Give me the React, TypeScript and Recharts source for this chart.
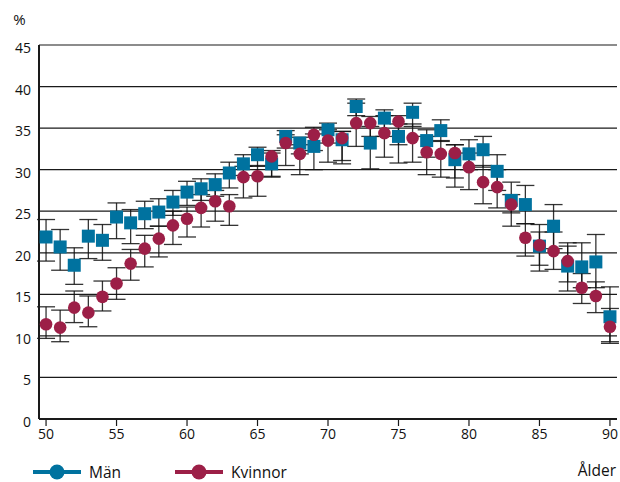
import React from 'react';
import { ScatterChart, Scatter, XAxis, YAxis, CartesianGrid, ErrorBar, Legend, Label } from 'recharts';

const ages = [50, 51, 52, 53, 54, 55, 56, 57, 58, 59, 60, 61, 62, 63, 64, 65, 66, 67, 68, 69, 70, 71, 72, 73, 74, 75, 76, 77, 78, 79, 80, 81, 82, 83, 84, 85, 86, 87, 88, 89, 90];

const menValues = [21.9, 20.7, 18.5, 22.0, 21.5, 24.3, 23.6, 24.7, 24.9, 26.1, 27.3, 27.7, 28.2, 29.6, 30.7, 31.8, 30.7, 34.0, 33.2, 32.8, 34.8, 33.6, 37.6, 33.2, 36.2, 34.0, 36.9, 33.5, 34.7, 31.2, 31.9, 32.4, 29.8, 26.3, 25.8, 20.8, 23.2, 18.4, 18.3, 18.9, 12.3];
const menLow = [19.0, 17.9, 16.2, 19.3, 19.1, 21.7, 21.1, 22.9, 23.2, 24.5, 25.7, 26.3, 26.8, 27.8, 29.3, 30.4, 29.2, 32.6, 31.9, 30.0, 33.2, 31.1, 36.5, 30.1, 34.0, 30.8, 35.2, 31.5, 33.4, 29.0, 30.0, 30.3, 27.5, 24.8, 23.5, 17.8, 20.5, 15.4, 15.8, 15.8, 9.3];
const menHigh = [24.0, 22.8, 20.6, 24.0, 23.4, 26.0, 25.2, 26.2, 26.5, 27.5, 28.6, 28.9, 29.5, 30.9, 31.8, 32.7, 32.0, 34.7, 33.9, 34.3, 35.6, 34.6, 38.5, 35.2, 37.2, 35.5, 38.0, 34.8, 36.0, 33.0, 33.6, 34.0, 31.8, 28.5, 28.1, 23.4, 25.8, 21.2, 21.2, 22.2, 15.9];

const womenValues = [11.4, 11.0, 13.4, 12.8, 14.7, 16.3, 18.7, 20.5, 21.7, 23.3, 24.1, 25.4, 26.2, 25.6, 29.1, 29.2, 31.6, 33.2, 31.9, 34.2, 33.5, 33.8, 35.6, 35.6, 34.4, 35.8, 33.8, 32.1, 31.9, 32.0, 30.3, 28.5, 27.9, 25.8, 21.8, 20.9, 20.2, 19.0, 15.8, 14.8, 11.1];
const womenLow = [9.7, 9.3, 11.6, 11.1, 13.0, 14.4, 16.7, 18.3, 19.5, 21.0, 21.9, 23.1, 23.8, 23.3, 26.6, 26.8, 29.1, 30.5, 29.4, 32.3, 30.9, 30.7, 32.8, 34.0, 31.5, 33.0, 30.9, 29.4, 29.1, 27.9, 27.6, 25.9, 25.4, 23.2, 19.6, 18.5, 18.0, 16.5, 13.9, 12.8, 9.1];
const womenHigh = [13.5, 13.1, 15.4, 14.8, 16.6, 18.2, 20.4, 22.1, 23.2, 25.0, 25.5, 27.0, 27.5, 27.0, 30.4, 30.5, 32.3, 34.2, 33.0, 35.1, 34.8, 34.6, 38.0, 36.4, 36.5, 36.5, 35.5, 34.0, 33.5, 33.0, 32.0, 30.5, 30.0, 27.0, 23.5, 22.5, 22.5, 20.8, 17.5, 16.5, 13.3];

const xTicks = [50, 55, 60, 65, 70, 75, 80, 85, 90];
const yTicks = [0, 5, 10, 15, 20, 25, 30, 35, 40, 45];

const seriesNames = ['Män', 'Kvinnor'];
const BLUE = '#00729f';
const RED = '#9c1f47';
const FONT = '"Open Sans", "Noto Sans", sans-serif';
const LEGEND_H = 22;

const build = (vals: number[], low: number[], high: number[]) =>
  ages.map((age, i) => ({
    age,
    value: vals[i],
    err: [+(vals[i] - low[i]).toFixed(2), +(high[i] - vals[i]).toFixed(2)],
  }));

const menData = build(menValues, menLow, menHigh);
const womenData = build(womenValues, womenLow, womenHigh);

const SquareShape = (props: any) => {
  const { cx, cy } = props;
  if (cx == null || cy == null) return <g />;
  return <rect x={cx - 6.5} y={cy - 6.5} width={13} height={13} fill={BLUE} />;
};

const CircleShape = (props: any) => {
  const { cx, cy } = props;
  if (cx == null || cy == null) return <g />;
  return <circle cx={cx} cy={cy} r={6.3} fill={RED} />;
};

const EmptyShape = () => <g />;

const renderLegend = (props: any) => {
  const items = (props.payload || [])
    .filter((p: any) => p.type !== 'none' && seriesNames.includes(p.value))
    .sort((a: any, b: any) => seriesNames.indexOf(a.value) - seriesNames.indexOf(b.value));
  return (
    <div style={{ display: 'flex', width: 620, paddingLeft: 33, boxSizing: 'border-box', alignItems: 'center' }}>
      {items.map((entry: any) => (
        <div
          key={entry.value}
          style={{
            width: 142,
            display: 'flex',
            alignItems: 'center',
            whiteSpace: 'nowrap',
            fontFamily: FONT,
            fontSize: 15.5,
            lineHeight: 'normal',
            color: '#111',
          }}
        >
          <svg width={48} height={18} style={{ display: 'block', flex: '0 0 48px' }}>
            <line x1={0} y1={9} x2={48} y2={9} stroke={entry.color} strokeWidth={4} />
            <circle cx={24} cy={9} r={7.5} fill={entry.color} />
          </svg>
          <span style={{ marginLeft: 8 }}>{entry.value}</span>
        </div>
      ))}
    </div>
  );
};

export default function App() {
  return (
    <div style={{ position: 'absolute', left: 0, top: 0, width: 620, height: 482, background: '#fff' }}>
      <ScatterChart width={620} height={482} margin={{ top: 45, right: 3, bottom: 5 - LEGEND_H, left: 0 }}>
        <CartesianGrid horizontal={true} vertical={false} stroke="#1a1a1a" strokeWidth={1.2} />
        <XAxis
          type="number"
          dataKey="age"
          domain={[49.5, 90.5]}
          ticks={xTicks}
          interval={0}
          allowDataOverflow
          height={58}
          tickSize={7}
          tickMargin={3}
          tickLine={{ stroke: '#1a1a1a', strokeWidth: 1.2 }}
          axisLine={{ stroke: '#1a1a1a', strokeWidth: 2 }}
          tick={{ fill: '#111', fontSize: 14, fontFamily: FONT }}
        >
          <Label
            value="Ålder"
            position="insideBottomRight"
            offset={1}
            style={{ fill: '#111', fontSize: 15.5, fontFamily: FONT }}
          />
        </XAxis>
        <YAxis
          type="number"
          dataKey="value"
          domain={[0, 45]}
          ticks={yTicks}
          interval={0}
          width={39}
          tickLine={false}
          axisLine={{ stroke: '#1a1a1a', strokeWidth: 2 }}
          tick={{ fill: '#111', fontSize: 14, fontFamily: FONT, dy: 3 }}
        >
          <Label
            value="%"
            position="top"
            offset={20}
            style={{ fill: '#111', fontSize: 15, fontFamily: FONT }}
          />
        </YAxis>
        <Legend
          verticalAlign="bottom"
          content={renderLegend}
          wrapperStyle={{ position: 'absolute', left: 0, top: 461, width: 620, height: LEGEND_H }}
        />
        <Scatter name={seriesNames[0]} data={menData} fill={BLUE} shape={SquareShape} isAnimationActive={false} />
        <Scatter name={seriesNames[1]} data={womenData} fill={RED} shape={CircleShape} isAnimationActive={false} />
        <Scatter data={menData} fill={BLUE} shape={EmptyShape} legendType="none" isAnimationActive={false}>
          <ErrorBar dataKey="err" direction="y" width={9} stroke="#111" strokeWidth={1.3} strokeOpacity={0.85} />
        </Scatter>
        <Scatter data={womenData} fill={RED} shape={EmptyShape} legendType="none" isAnimationActive={false}>
          <ErrorBar dataKey="err" direction="y" width={9} stroke="#111" strokeWidth={1.3} strokeOpacity={0.85} />
        </Scatter>
      </ScatterChart>
    </div>
  );
}
